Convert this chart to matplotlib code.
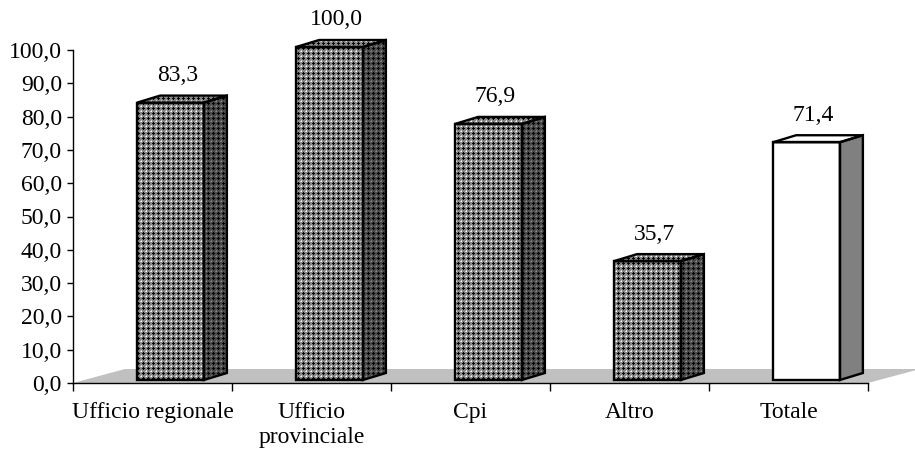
import numpy as np
import matplotlib
matplotlib.use("Agg")
import matplotlib.pyplot as plt
from matplotlib.patches import Polygon

# ---- data ----
categories = ["Ufficio regionale", "Ufficio\nprovinciale", "Cpi", "Altro", "Totale"]
values = [83.3, 100.0, 76.9, 35.7, 71.4]
y_ticks = [0, 10, 20, 30, 40, 50, 60, 70, 80, 90, 100]

plt.rcParams["font.family"] = ["Liberation Serif", "DejaVu Serif"]
FS = 17

W, H = 915, 455
fig = plt.figure(figsize=(W / 100, H / 100), dpi=100)
# plot area in pixels: x 73..868, y 50..383
ax = fig.add_axes([73 / W, (H - 383) / H, 795 / W, 333 / H])
n = len(categories)
ax.set_xlim(0, n)
ax.set_ylim(0, 100)

# pixel -> data scale factors
sx = 795 / n
sy = 333 / 100.0

def px(dx, dy):
    return dx / sx, dy / sy

# oblique 3D geometry (pixels)
floor_dx, floor_dy = px(52, 14)
front_dx, front_dy = px(18, 3)
depth_dx, depth_dy = px(23, 7)
bar_w = 0.42
bar_left = 0.5 - bar_w / 2

# floor
floor = Polygon([(0, 0), (n, 0), (n + floor_dx, floor_dy), (floor_dx, floor_dy)],
                closed=True, facecolor="#c0c0c0", edgecolor="none",
                zorder=1, clip_on=False)
ax.add_patch(floor)

# fine cross texture used for the patterned bars
tile = np.full((5, 5), 0.52)
for (r, c) in [(2, 2), (1, 2), (3, 2), (2, 1), (2, 3)]:
    tile[r, c] = 0.02
tile[0, 0] = 1.0
tile[0, 4] = tile[4, 0] = 0.8
tex_x0, tex_x1 = -0.2, n + 0.6
tex_y0, tex_y1 = -10, 125
tw = int(round((tex_x1 - tex_x0) * sx))
th = int(round((tex_y1 - tex_y0) * sy))
texture = np.tile(tile, (th // 5 + 1, tw // 5 + 1))[:th, :tw]


def textured_face(verts, shade, z):
    poly = Polygon(verts, closed=True, facecolor="none", edgecolor="none",
                   zorder=z, clip_on=False)
    ax.add_patch(poly)
    im = ax.imshow(np.clip(texture * shade, 0, 1), cmap="gray", vmin=0, vmax=1,
                   extent=(tex_x0, tex_x1, tex_y0, tex_y1), origin="upper",
                   interpolation="nearest", aspect="auto", zorder=z)
    im.set_clip_path(poly)
    im.set_clip_box(fig.bbox)


def outline(verts, z):
    ax.add_patch(Polygon(verts, closed=True, facecolor="none", edgecolor="black",
                         linewidth=1.7, joinstyle="miter", zorder=z, clip_on=False))


for i, v in enumerate(values):
    x0 = i + bar_left + front_dx
    x1 = x0 + bar_w
    y0 = front_dy
    y1 = front_dy + v
    front = [(x0, y0), (x1, y0), (x1, y1), (x0, y1)]
    side = [(x1, y0), (x1 + depth_dx, y0 + depth_dy),
            (x1 + depth_dx, y1 + depth_dy), (x1, y1)]
    top = [(x0, y1), (x1, y1), (x1 + depth_dx, y1 + depth_dy),
           (x0 + depth_dx, y1 + depth_dy)]
    z = 3 + i * 0.1
    if i == n - 1:
        ax.add_patch(Polygon(front, closed=True, facecolor="white",
                             edgecolor="none", zorder=z, clip_on=False))
        ax.add_patch(Polygon(side, closed=True, facecolor="#808080",
                             edgecolor="none", zorder=z, clip_on=False))
        ax.add_patch(Polygon(top, closed=True, facecolor="white",
                             edgecolor="none", zorder=z, clip_on=False))
    else:
        textured_face(front, 1.0, z)
        textured_face(side, 0.55, z)
        textured_face(top, 1.0, z)
    for f in (front, side, top):
        outline(f, z + 0.05)
    lx, ly = px(7, 27)
    ax.text(x0 + bar_w / 2 + lx, y1 + ly, f"{v:.1f}".replace(".", ","),
            ha="center", va="center", fontsize=FS, zorder=6, clip_on=False)

# axes styling
for s in ("top", "right"):
    ax.spines[s].set_visible(False)
ax.spines["left"].set_linewidth(1.0)
ax.spines["bottom"].set_linewidth(1.0)
ax.spines["left"].set_zorder(2)
ax.spines["bottom"].set_zorder(2)

ax.set_yticks(y_ticks)
ax.set_yticklabels([f"{t:.1f}".replace(".", ",") for t in y_ticks], fontsize=FS)
ax.tick_params(axis="y", direction="out", length=4, width=1, pad=4)

ax.set_xticks(np.arange(n + 1))
ax.set_xticklabels([""] * (n + 1))
ax.tick_params(axis="x", which="major", direction="out", length=6, width=1)
ax.set_xticks(np.arange(n) + 0.5, minor=True)
ax.set_xticklabels(categories, minor=True, fontsize=FS, linespacing=1.25)
ax.tick_params(axis="x", which="minor", length=0, pad=14)
ax.set_facecolor("none")

fig.savefig("out.png", dpi=100)
